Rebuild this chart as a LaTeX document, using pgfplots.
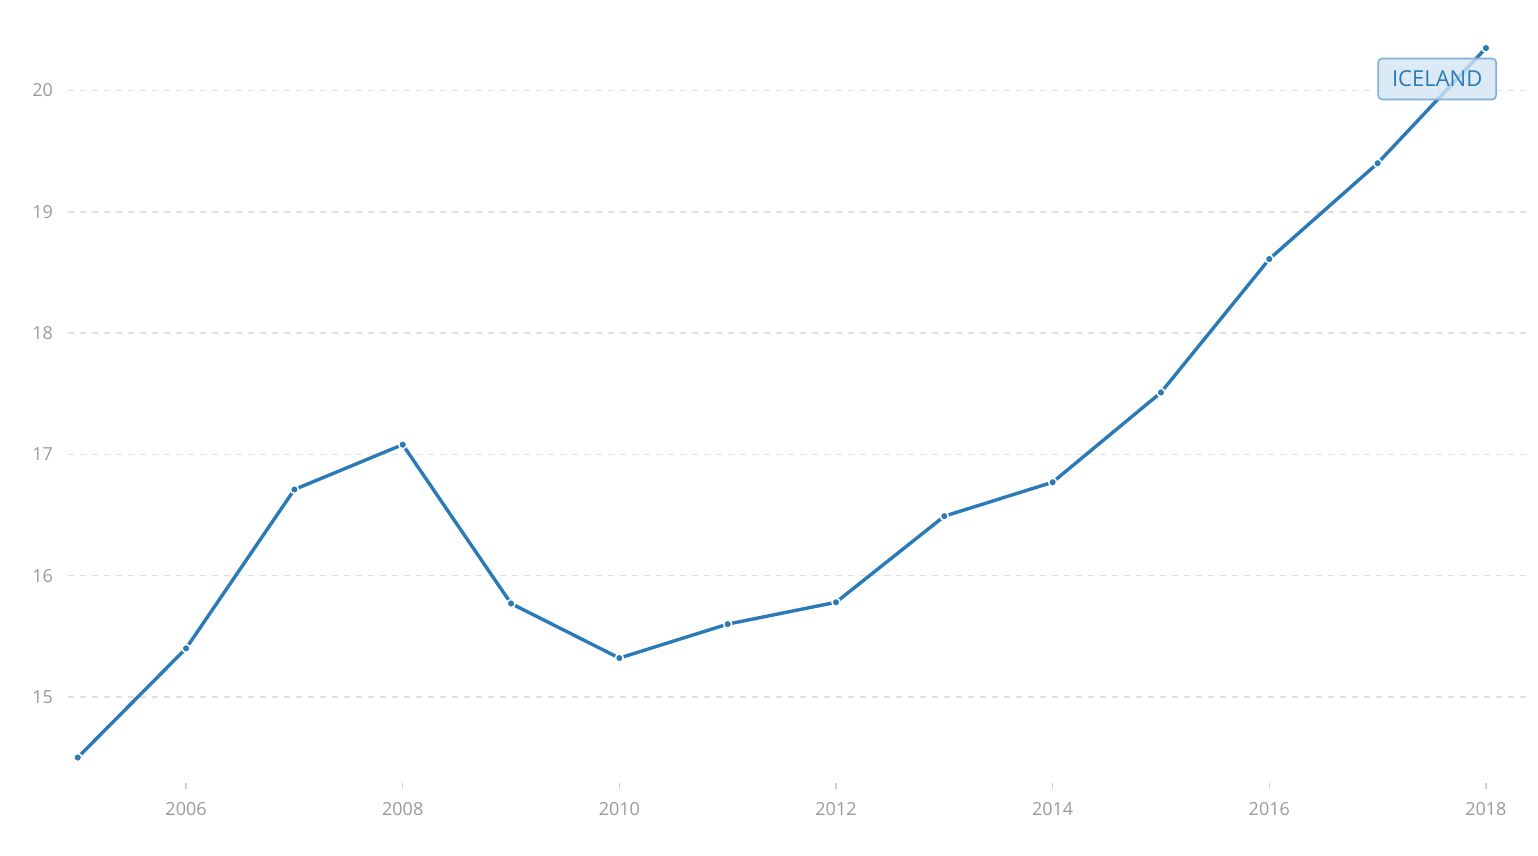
\documentclass[border=0pt]{standalone}
\usepackage{pgfplots}
\pgfplotsset{compat=1.18}
\usepackage{fontspec}
\setmainfont{Open Sans}
\definecolor{lineblue}{HTML}{2A7AB8}
\definecolor{ticktext}{HTML}{9A9A9A}
\definecolor{gridgray}{HTML}{E0E0E0}
\definecolor{boxfill}{HTML}{D3E5F3}
\definecolor{boxdraw}{HTML}{7FB1DA}
\begin{document}
\begin{tikzpicture}
\useasboundingbox (0pt,0pt) rectangle (769pt,428pt);
\begin{axis}[
    at={(34pt,36.5pt)}, anchor=south west,
    scale only axis,
    width=729pt, height=390.5pt,
    xmin=2004.91, xmax=2018.37,
    ymin=14.29, ymax=20.73,
    axis line style={draw=none},
    xtick={2006,2008,...,2018},
    ytick={15,16,...,20},
    xticklabel style={/pgf/number format/1000 sep={}},
    tick label style={font=\fontsize{9}{11}\selectfont, text=ticktext},
    /pgf/number format/assume math mode=true,
    x tick style={draw=gridgray!80!gray, line width=0.6pt},
    y tick style={draw=none},
    xtick pos=bottom, ytick pos=left,
    major tick length=3pt,
    tick align=outside,
    xticklabel shift=3pt,
    yticklabel shift=1pt,
    ymajorgrids,
    grid style={gridgray, line width=0.8pt, dash pattern=on 3pt off 3pt},
    clip=false,
]
\addplot[lineblue, line width=1.7pt, mark=*, mark size=2pt,
    mark options={fill=lineblue, draw=white, line width=0.75pt}]
coordinates {
(2005,14.50) (2006,15.40) (2007,16.71) (2008,17.08) (2009,15.77)
(2010,15.32) (2011,15.60) (2012,15.78) (2013,16.49) (2014,16.77)
(2015,17.51) (2016,18.61) (2017,19.40) (2018,20.35)
};
\node[draw=boxdraw, line width=0.8pt, fill=boxfill, fill opacity=0.8, text opacity=1,
    rounded corners=2pt, text=lineblue, font=\fontsize{11}{13}\selectfont,
    minimum width=59pt, minimum height=20.5pt, inner sep=0pt]
    at (axis cs:2017.55,20.095) {ICELAND};
\end{axis}
\end{tikzpicture}
\end{document}
